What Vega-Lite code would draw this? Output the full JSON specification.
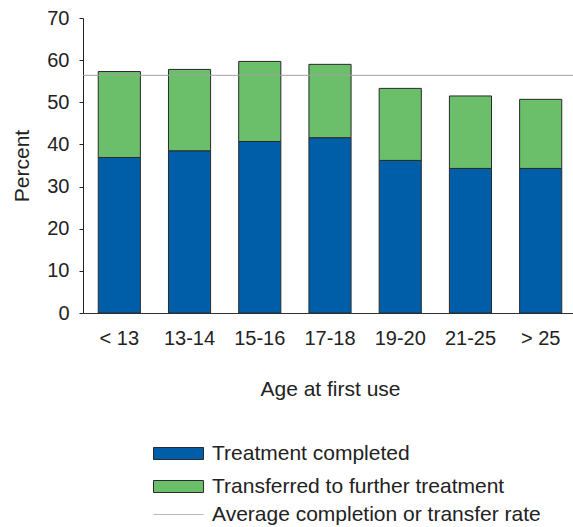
{
  "$schema": "https://vega.github.io/schema/vega-lite/v6.json",
  "width": 490,
  "height": 295,
  "autosize": {"type": "none"},
  "padding": {"left": 83, "top": 18, "right": 0, "bottom": 214},
  "config": {
    "view": {"stroke": null},
    "font": "Liberation Sans"
  },
  "datasets": {
    "bars": [
      {"age": "< 13", "status": "Treatment completed", "seq": 1, "percent": 36.9},
      {"age": "< 13", "status": "Transferred to further treatment", "seq": 2, "percent": 20.4},
      {"age": "13-14", "status": "Treatment completed", "seq": 1, "percent": 38.5},
      {"age": "13-14", "status": "Transferred to further treatment", "seq": 2, "percent": 19.3},
      {"age": "15-16", "status": "Treatment completed", "seq": 1, "percent": 40.7},
      {"age": "15-16", "status": "Transferred to further treatment", "seq": 2, "percent": 19.0},
      {"age": "17-18", "status": "Treatment completed", "seq": 1, "percent": 41.6},
      {"age": "17-18", "status": "Transferred to further treatment", "seq": 2, "percent": 17.4},
      {"age": "19-20", "status": "Treatment completed", "seq": 1, "percent": 36.2},
      {"age": "19-20", "status": "Transferred to further treatment", "seq": 2, "percent": 17.1},
      {"age": "21-25", "status": "Treatment completed", "seq": 1, "percent": 34.3},
      {"age": "21-25", "status": "Transferred to further treatment", "seq": 2, "percent": 17.2},
      {"age": "> 25", "status": "Treatment completed", "seq": 1, "percent": 34.3},
      {"age": "> 25", "status": "Transferred to further treatment", "seq": 2, "percent": 16.4}
    ],
    "avg": [
      {"rate": 56.4, "label": "Average completion or transfer rate"}
    ]
  },
  "layer": [
    {
      "data": {"name": "bars"},
      "mark": {"type": "bar", "stroke": "#2a2a2a", "strokeWidth": 1},
      "encoding": {
        "x": {
          "field": "age",
          "type": "nominal",
          "sort": ["< 13", "13-14", "15-16", "17-18", "19-20", "21-25", "> 25"],
          "scale": {"range": [0, 494], "paddingInner": 0.4, "paddingOuter": 0.217},
          "axis": {
            "title": "Age at first use",
            "labelAngle": 0,
            "labelFontSize": 20,
            "labelColor": "#222",
            "labelBaseline": "top",
            "labelPadding": 15,
            "ticks": false,
            "tickSize": 0,
            "domainColor": "#333",
            "domainWidth": 1,
            "titleFontSize": 21,
            "titleFontWeight": "normal",
            "titleColor": "#222",
            "titleBaseline": "alphabetic",
            "titleY": 82
          }
        },
        "y": {
          "field": "percent",
          "type": "quantitative",
          "stack": "zero",
          "scale": {"domain": [0, 70], "nice": false},
          "axis": {
            "title": "Percent",
            "values": [0, 10, 20, 30, 40, 50, 60, 70],
            "grid": false,
            "labelFontSize": 20,
            "labelColor": "#222",
            "labelPadding": 10,
            "tickSize": 4,
            "tickColor": "#222",
            "domainColor": "#222",
            "titleFontSize": 21,
            "titleFontWeight": "normal",
            "titleColor": "#222",
            "titleBaseline": "alphabetic",
            "titleAngle": -90,
            "titleX": -55,
            "titleY": 147.5
          }
        },
        "color": {
          "field": "status",
          "type": "nominal",
          "scale": {
            "domain": ["Treatment completed", "Transferred to further treatment"],
            "range": ["#005EA8", "#6BBF6A"]
          },
          "legend": {
            "title": null,
            "orient": "none",
            "legendX": 66,
            "legendY": 425,
            "direction": "vertical",
            "padding": 0,
            "labelFontSize": 21,
            "labelColor": "#222",
            "labelLimit": 500,
            "labelOffset": 42,
            "rowPadding": 11,
            "symbolType": "M-1,-1L7.33,-1L7.33,1L-1,1Z",
            "symbolSize": 144,
            "symbolStrokeColor": "#2a2a2a",
            "symbolStrokeWidth": 1,
            "symbolOpacity": 1
          }
        },
        "order": {"field": "seq"}
      }
    },
    {
      "data": {"name": "avg"},
      "mark": {"type": "rule", "strokeWidth": 1, "color": "#a0a0a0"},
      "encoding": {
        "y": {"field": "rate", "type": "quantitative"},
        "strokeDash": {
          "field": "label",
          "type": "nominal",
          "scale": {"range": [[1, 0]]},
          "legend": {
            "title": null,
            "orient": "none",
            "legendX": 66,
            "legendY": 486,
            "padding": 0,
            "labelFontSize": 21,
            "labelColor": "#222",
            "labelLimit": 500,
            "labelOffset": 42,
            "symbolType": "M-1,0L7.33,0",
            "symbolSize": 144,
            "symbolStrokeColor": "#a0a0a0",
            "symbolStrokeWidth": 1,
            "symbolOpacity": 1
          }
        }
      }
    }
  ]
}
